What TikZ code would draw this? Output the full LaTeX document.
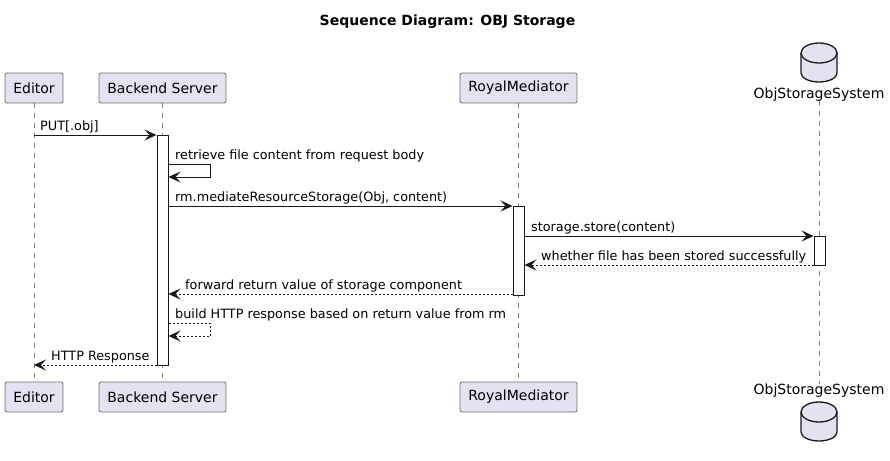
\documentclass[tikz,border=0pt]{standalone}
\usepackage{fontspec}
\setmainfont{DejaVu Sans}
\usetikzlibrary{arrows.meta}
\definecolor{pbox}{HTML}{E2E2F0}
\definecolor{pline}{HTML}{181818}
\definecolor{pborder}{HTML}{6E6E6E}
\tikzset{
 part/.style={draw=pborder, line width=0.8pt, fill=pbox, rounded corners=2pt, minimum height=30pt, inner sep=0pt, font=\fontsize{14}{16}\selectfont, text=black},
 plain/.style={inner sep=0pt, font=\fontsize{14}{16}\selectfont, text=black},
 life/.style={draw=gray, dash pattern=on 5pt off 5pt, line width=0.7pt},
 act/.style={draw=pline, fill=white, line width=1pt, inner sep=0pt, minimum width=11pt},
 msg/.style={draw=pline, line width=1pt, -{Stealth[length=12pt,width=11pt,inset=5pt]}},
 ret/.style={msg, dash pattern=on 2pt off 2pt},
 lbl/.style={font=\fontsize{12.8}{15}\selectfont, anchor=base west, inner sep=0pt, text=black},
 dbcyl/.pic={
  \path[fill=pbox, draw=pline, line width=1.3pt] (-18,10) -- (-18,30) arc[start angle=180,end angle=360,x radius=18pt,y radius=9pt] -- (18,10) arc[start angle=0,end angle=180,x radius=18pt,y radius=10pt] -- cycle;
  \draw[pline, line width=1.3pt] (-18,10) arc[start angle=180,end angle=360,x radius=18pt,y radius=10pt];
 }
}
\begin{document}
\begin{tikzpicture}[x=1pt,y=-1pt]
\useasboundingbox[fill=white] (0,0) rectangle (890,460);
\node[font=\fontsize{14}{16}\selectfont\bfseries] (title) at (447.5,22) {Sequence Diagram: OBJ Storage};
% participants top
\node[part, minimum width=58pt] (ed) at (34,88) {Editor};
\node[part, minimum width=127pt] (be) at (162.5,88) {Backend Server};
\node[part, minimum width=117pt] (rm) at (518.5,88) {RoyalMediator};
\pic at (819,43) {dbcyl};
\node[plain] (os) at (819,95) {ObjStorageSystem};
% participants bottom
\node[part, minimum width=58pt] (edb) at (34,397) {Editor};
\node[part, minimum width=127pt] (beb) at (162.5,397) {Backend Server};
\node[part, minimum width=117pt] (rmb) at (518.5,397) {RoyalMediator};
\node[plain] (osb) at (819,391) {ObjStorageSystem};
\pic at (819,402) {dbcyl};
% lifelines
\draw[life] (ed.south) -- (edb.north);
\draw[life] (be.south) -- (beb.north);
\draw[life] (rm.south) -- (rmb.north);
\draw[life] (819,101) -- (819,384);
% activations
\node[act, minimum height=230pt] (bea) at (162.5,250) {};
\node[act, minimum height=89pt] (rma) at (518.5,250.5) {};
\node[act, minimum height=29pt] (osa) at (819.5,250.5) {};
% messages
\coordinate (m1) at (34,135);
\draw[msg] (m1) -- (m1 -| bea.west);
\node[lbl] (l1) at (40,130) {PUT[.obj]};

\coordinate (s1a) at (168,164);
\coordinate (s1b) at (210,164);
\coordinate (s1c) at (210,177);
\coordinate (s1d) at (168,177);
\draw[msg] (s1a -| bea.east) -- (s1b) -- (s1c) -- (s1d -| bea.east);
\node[lbl] (l2) at (175,159) {retrieve file content from request body};

\coordinate (m3) at (168,206);
\draw[msg] (m3 -| bea.east) -- (m3 -| rma.west);
\node[lbl] (l3) at (175,201) {rm.mediateResourceStorage(Obj, content)};

\coordinate (m4) at (524,236);
\draw[msg] (m4 -| rma.east) -- (m4 -| osa.west);
\node[lbl] (l4) at (531,231) {storage.store(content)};

\coordinate (m5) at (524,265);
\draw[ret] (m5 -| osa.west) -- (m5 -| rma.east);
\node[lbl] (l5) at (541,260) {whether file has been stored successfully};

\coordinate (m6) at (168,294);
\draw[ret] (m6 -| rma.west) -- (m6 -| bea.east);
\node[lbl] (l6) at (185,289) {forward return value of storage component};

\coordinate (s2a) at (168,323);
\coordinate (s2b) at (210,323);
\coordinate (s2c) at (210,336);
\coordinate (s2d) at (168,336);
\draw[ret] (s2a -| bea.east) -- (s2b) -- (s2c) -- (s2d -| bea.east);
\node[lbl] (l7) at (175,318) {build HTTP response based on return value from rm};

\coordinate (m8) at (34,365);
\draw[ret] (m8 -| bea.west) -- (m8);
\node[lbl] (l8) at (51,360) {HTTP Response};
\end{tikzpicture}
\end{document}
